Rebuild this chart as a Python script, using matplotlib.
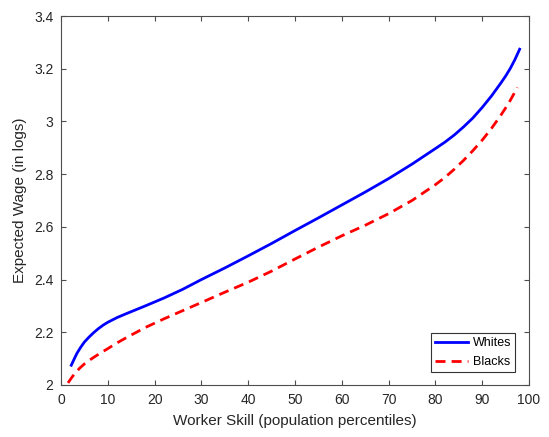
import numpy as np
import matplotlib
matplotlib.use("Agg")
import matplotlib.pyplot as plt

plt.rcParams['font.family'] = ['Liberation Sans', 'DejaVu Sans']

# expected log wage by skill percentile
whites_x = [2.2, 2.8, 3.4, 4.2, 5, 6, 7, 8, 9, 10, 12, 14, 18, 22, 26, 30, 35,
            40, 45, 50, 55, 60, 65, 70, 75, 80, 82, 84, 86, 88, 90, 92, 94, 95,
            96, 97, 98]
whites_y = [2.075, 2.098, 2.120, 2.143, 2.163, 2.182, 2.199, 2.214, 2.227, 2.238,
            2.256, 2.271, 2.300, 2.330, 2.363, 2.400, 2.444, 2.490, 2.537, 2.586,
            2.634, 2.683, 2.732, 2.783, 2.838, 2.897, 2.921, 2.948, 2.979, 3.013,
            3.053, 3.097, 3.146, 3.172, 3.201, 3.235, 3.274]

blacks_x = [1.5, 2.2, 3, 4, 5, 6, 7, 8.5, 10, 12, 14, 18, 22, 26, 30, 35, 40,
            45, 50, 55, 60, 65, 70, 75, 80, 82, 84, 86, 88, 90, 92, 94, 95, 96,
            97, 97.5]
blacks_y = [2.008, 2.026, 2.045, 2.064, 2.080, 2.093, 2.105, 2.122, 2.138, 2.160,
            2.180, 2.218, 2.251, 2.282, 2.313, 2.352, 2.390, 2.432, 2.478, 2.523,
            2.566, 2.606, 2.650, 2.700, 2.760, 2.787, 2.818, 2.852, 2.889, 2.929,
            2.974, 3.024, 3.051, 3.080, 3.112, 3.129]

xticks = np.arange(0, 101, 10)
yticks = [2, 2.2, 2.4, 2.6, 2.8, 3, 3.2, 3.4]
yticklabels = ['2', '2.2', '2.4', '2.6', '2.8', '3', '3.2', '3.4']

dark = '#262626'

fig = plt.figure(figsize=(5.49, 4.37), dpi=100)
ax = fig.add_axes([61/549, 1 - 385/437, 468/549, 369/437])

ax.plot(whites_x, whites_y, color='#0000ff', lw=2, label='Whites')
ax.plot(blacks_x, blacks_y, color='#ff0000', lw=2, dashes=(3.6, 2.2), label='Blacks')

ax.set_xlim(0, 100)
ax.set_ylim(2, 3.4)
ax.set_xticks(xticks)
ax.set_yticks(yticks)
ax.set_yticklabels(yticklabels)
ax.tick_params(direction='in', length=3.5, width=0.8, top=True, right=True,
               labelsize=10, colors='#4d4d4d', labelcolor=dark, pad=5.5)
for s in ax.spines.values():
    s.set_color('#4d4d4d')
    s.set_linewidth(0.8)

ax.set_xlabel('Worker Skill (population percentiles)', fontsize=11, color=dark, labelpad=5)
ax.set_ylabel('Expected Wage (in logs)', fontsize=11, color=dark, labelpad=5)

leg = ax.legend(loc='lower right', bbox_to_anchor=(0.971, 0.034), borderaxespad=0,
                fontsize=9, frameon=True, fancybox=False, handlelength=2.6,
                handletextpad=0.4, labelspacing=0.55, borderpad=0.35)
leg.get_frame().set_edgecolor('black')
leg.get_frame().set_linewidth(0.8)

fig.savefig('out.png', dpi=100)
